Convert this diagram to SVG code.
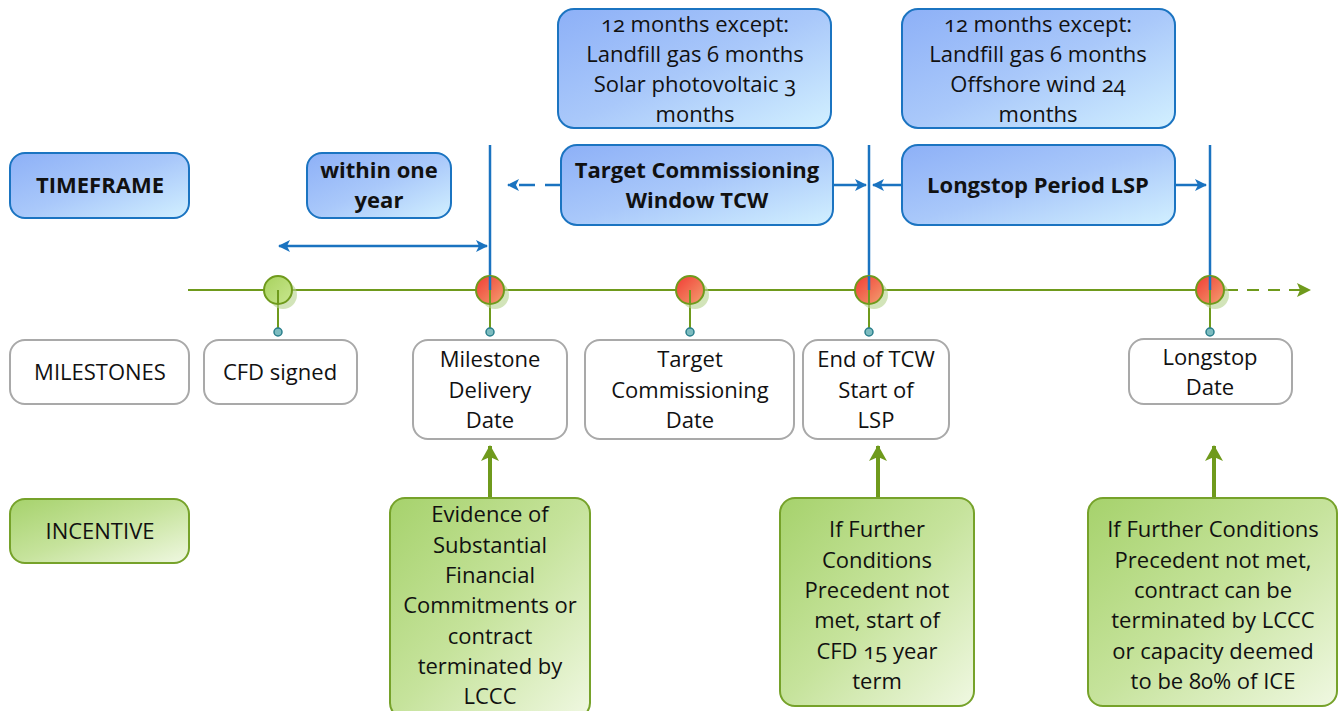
<svg xmlns="http://www.w3.org/2000/svg" width="1340" height="711" viewBox="0 0 1340 711">
  <defs>
    <linearGradient id="gBlue" x1="0" y1="0" x2="1" y2="1">
      <stop offset="0" stop-color="#8db0f7"/>
      <stop offset="0.5" stop-color="#a9c8fa"/>
      <stop offset="1" stop-color="#d2f0ff"/>
    </linearGradient>
    <linearGradient id="gGreen" x1="0" y1="0" x2="1" y2="1">
      <stop offset="0" stop-color="#a6d26c"/>
      <stop offset="0.5" stop-color="#c6e39c"/>
      <stop offset="1" stop-color="#f0f8e2"/>
    </linearGradient>
    <linearGradient id="gRed" x1="0" y1="0" x2="1" y2="1">
      <stop offset="0" stop-color="#f23b35"/>
      <stop offset="1" stop-color="#f2a070"/>
    </linearGradient>
    <linearGradient id="gLime" x1="0" y1="0" x2="1" y2="1">
      <stop offset="0" stop-color="#a8d25e"/>
      <stop offset="1" stop-color="#c8e68e"/>
    </linearGradient>
    <marker id="aBlue" viewBox="0 0 12 12" refX="11" refY="6" markerWidth="12" markerHeight="12" markerUnits="userSpaceOnUse" orient="auto-start-reverse">
      <path d="M0,0 L12,6 L0,12 L3,6 Z" fill="#1a73c0"/>
    </marker>
    <marker id="aGreen" viewBox="0 0 14 14" refX="13" refY="7" markerWidth="14" markerHeight="14" markerUnits="userSpaceOnUse" orient="auto">
      <path d="M0,0 L14,7 L0,14 L3,7 Z" fill="#6f9a1c"/>
    </marker>
    <marker id="aGreenBig" viewBox="0 0 16 18" refX="15" refY="9" markerWidth="16" markerHeight="18" markerUnits="userSpaceOnUse" orient="auto">
      <path d="M0,0 L16,9 L0,18 L4,9 Z" fill="#6f9a1c"/>
    </marker>
  </defs>
  <style>
    text { font-family: "Open Sans", Lato, "Liberation Sans", sans-serif; font-size: 22px; fill: #111; text-anchor: middle; font-variant-numeric: oldstyle-nums; }
    .b { font-weight: bold; }
    .blue { fill: url(#gBlue); stroke: #1b74c1; stroke-width: 2; }
    .green { fill: url(#gGreen); stroke: #76a22a; stroke-width: 2; }
    .white { fill: #fff; stroke: #a9a9a9; stroke-width: 2; }
    .vline { stroke: #1a73c0; stroke-width: 2.5; fill: none; }
    .barrow { stroke: #1a73c0; stroke-width: 2.5; fill: none; }
    .stem { stroke: #6f9a1c; stroke-width: 2; }
    .pin { fill: #7dbcc0; stroke: #2a7f8c; stroke-width: 1.5; }
    .shadow { fill: #b4d28a; opacity: 0.6; }
    .dotR { fill: url(#gRed); stroke: #6f9a1c; stroke-width: 2; }
    .dotG { fill: url(#gLime); stroke: #6f9a1c; stroke-width: 2; }
  </style>

  <!-- row labels -->
  <g id="timeframe"><rect class="blue" x="10" y="153" width="179" height="65" rx="15"/><text class="b" x="100" y="193">TIMEFRAME</text></g>
  <g id="milestones"><rect class="white" x="10" y="340" width="179" height="64" rx="15"/><text x="100" y="380">MILESTONES</text></g>
  <g id="incentive"><rect class="green" x="10" y="499" width="179" height="64" rx="15"/><text x="100" y="539">INCENTIVE</text></g>

  <!-- connectors -->
  <g id="connectors">
    <line class="vline" x1="490" y1="145" x2="490" y2="290"/>
    <line class="vline" x1="869" y1="145" x2="869" y2="290"/>
    <line class="vline" x1="1210" y1="145" x2="1210" y2="290"/>
    <line class="barrow" x1="279" y1="246" x2="487" y2="246" marker-start="url(#aBlue)" marker-end="url(#aBlue)"/>
    <line class="barrow" x1="561" y1="185" x2="508" y2="185" stroke-dasharray="16,10" marker-end="url(#aBlue)"/>
    <line class="barrow" x1="833" y1="185" x2="866" y2="185" marker-end="url(#aBlue)"/>
    <line class="barrow" x1="902" y1="185" x2="873" y2="185" marker-end="url(#aBlue)"/>
    <line class="barrow" x1="1175" y1="185" x2="1206" y2="185" marker-end="url(#aBlue)"/>
    <!-- timeline -->
    <line x1="188" y1="290" x2="1226" y2="290" stroke="#6f9a1c" stroke-width="2"/>
    <line x1="1226" y1="290" x2="1310" y2="290" stroke="#6f9a1c" stroke-width="2" stroke-dasharray="12,9" marker-end="url(#aGreen)"/>
    <!-- stems -->
    <line class="stem" x1="278" y1="290" x2="278" y2="332"/>
    <line class="stem" x1="490" y1="290" x2="490" y2="332"/>
    <line class="stem" x1="690" y1="290" x2="690" y2="332"/>
    <line class="stem" x1="869" y1="290" x2="869" y2="332"/>
    <line class="stem" x1="1210" y1="290" x2="1210" y2="332"/>
    <!-- incentive arrows -->
    <line x1="490" y1="498" x2="490" y2="446" stroke="#6f9a1c" stroke-width="4" marker-end="url(#aGreenBig)"/>
    <line x1="878" y1="498" x2="878" y2="446" stroke="#6f9a1c" stroke-width="4" marker-end="url(#aGreenBig)"/>
    <line x1="1214" y1="498" x2="1214" y2="446" stroke="#6f9a1c" stroke-width="4" marker-end="url(#aGreenBig)"/>
  </g>

  <!-- timeline markers -->
  <g id="dot-cfd"><circle class="shadow" cx="283" cy="295" r="14"/><circle class="dotG" cx="278" cy="290" r="14"/><line class="stem" x1="278" y1="290" x2="278" y2="304"/><circle class="pin" cx="278" cy="332" r="4"/></g>
  <g id="dot-mdd"><circle class="shadow" cx="495" cy="295" r="14"/><circle class="dotR" cx="490" cy="290" r="14"/><line class="stem" x1="490" y1="290" x2="490" y2="304"/><line class="vline" x1="490" y1="276" x2="490" y2="290"/><circle class="pin" cx="490" cy="332" r="4"/></g>
  <g id="dot-tcd"><circle class="shadow" cx="695" cy="295" r="14"/><circle class="dotR" cx="690" cy="290" r="14"/><line class="stem" x1="690" y1="290" x2="690" y2="304"/><circle class="pin" cx="690" cy="332" r="4"/></g>
  <g id="dot-tcw"><circle class="shadow" cx="874" cy="295" r="14"/><circle class="dotR" cx="869" cy="290" r="14"/><line class="stem" x1="869" y1="290" x2="869" y2="304"/><line class="vline" x1="869" y1="276" x2="869" y2="290"/><circle class="pin" cx="869" cy="332" r="4"/></g>
  <g id="dot-lsd"><circle class="shadow" cx="1215" cy="295" r="14"/><circle class="dotR" cx="1210" cy="290" r="14"/><line class="stem" x1="1210" y1="290" x2="1210" y2="304"/><line class="vline" x1="1210" y1="276" x2="1210" y2="290"/><circle class="pin" cx="1210" cy="332" r="4"/></g>

  <!-- timeframe boxes -->
  <g id="within-year"><rect class="blue" x="307" y="153" width="144" height="65" rx="15"/><text class="b" x="379" y="178">within one</text><text class="b" x="379" y="208">year</text></g>
  <g id="tcw"><rect class="blue" x="561" y="145" width="272" height="80" rx="16"/><text class="b" x="697" y="178">Target Commissioning</text><text class="b" x="697" y="208">Window TCW</text></g>
  <g id="lsp"><rect class="blue" x="902" y="145" width="273" height="80" rx="16"/><text class="b" x="1038" y="193">Longstop Period LSP</text></g>
  <g id="tcw-note"><rect class="blue" x="558" y="9" width="273" height="119" rx="16"/><text x="695" y="32">12 months except:</text><text x="695" y="62">Landfill gas 6 months</text><text x="695" y="92">Solar photovoltaic 3</text><text x="695" y="122">months</text></g>
  <g id="lsp-note"><rect class="blue" x="902" y="9" width="273" height="119" rx="16"/><text x="1038" y="32">12 months except:</text><text x="1038" y="62">Landfill gas 6 months</text><text x="1038" y="92">Offshore wind 24</text><text x="1038" y="122">months</text></g>

  <!-- milestone boxes -->
  <g id="cfd-signed"><rect class="white" x="204" y="340" width="153" height="64" rx="15"/><text x="280" y="380">CFD signed</text></g>
  <g id="mdd"><rect class="white" x="413" y="340" width="154" height="99" rx="15"/><text x="490" y="367">Milestone</text><text x="490" y="398">Delivery</text><text x="490" y="428">Date</text></g>
  <g id="tcd"><rect class="white" x="585" y="340" width="209" height="99" rx="15"/><text x="690" y="367">Target</text><text x="690" y="398">Commissioning</text><text x="690" y="428">Date</text></g>
  <g id="end-tcw"><rect class="white" x="803" y="340" width="146" height="99" rx="15"/><text x="876" y="367">End of TCW</text><text x="876" y="398">Start of</text><text x="876" y="428">LSP</text></g>
  <g id="longstop"><rect class="white" x="1129" y="339" width="163" height="65" rx="15"/><text x="1210" y="365">Longstop</text><text x="1210" y="395">Date</text></g>

  <!-- incentive boxes -->
  <g id="inc-mdd"><rect class="green" x="390" y="498" width="200" height="220" rx="15"/>
    <text x="490" y="522">Evidence of</text><text x="490" y="553">Substantial</text><text x="490" y="583">Financial</text><text x="490" y="613">Commitments or</text><text x="490" y="644">contract</text><text x="490" y="674">terminated by</text><text x="490" y="704">LCCC</text></g>
  <g id="inc-tcw"><rect class="green" x="780" y="498" width="194" height="208" rx="15"/>
    <text x="877" y="537">If Further</text><text x="877" y="568">Conditions</text><text x="877" y="598">Precedent not</text><text x="877" y="628">met, start of</text><text x="877" y="659">CFD 15 year</text><text x="877" y="689">term</text></g>
  <g id="inc-lsd"><rect class="green" x="1088" y="498" width="249" height="208" rx="15"/>
    <text x="1213" y="537">If Further Conditions</text><text x="1213" y="568">Precedent not met,</text><text x="1213" y="598">contract can be</text><text x="1213" y="628">terminated by LCCC</text><text x="1213" y="659">or capacity deemed</text><text x="1213" y="689">to be 80% of ICE</text></g>
</svg>
